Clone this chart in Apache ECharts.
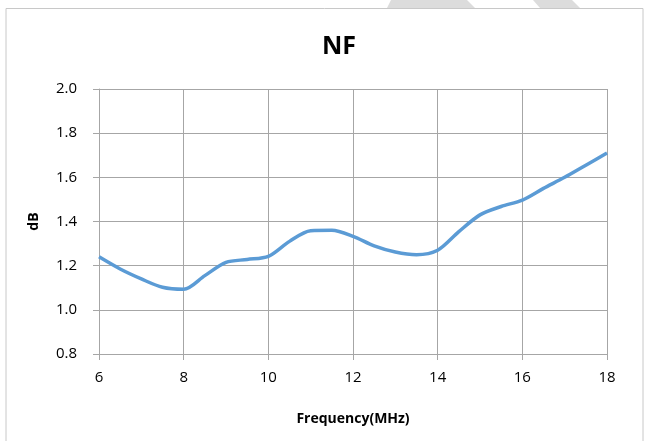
<!DOCTYPE html>
<html>
<head>
<meta charset="utf-8">
<script src="https://cdn.jsdelivr.net/npm/echarts@6/dist/echarts.min.js"></script>
<style>html,body{margin:0;padding:0;background:#fff;}#c{width:648px;height:441px;}</style>
</head>
<body>
<div id="c"></div>
<script>
var titleText = 'NF';
var xName = 'Frequency(MHz)';
var yName = 'dB';
var freq = [6, 6.5, 7, 7.5, 8, 8.5, 9, 9.5, 10, 10.5, 11, 11.5, 12, 12.5, 13, 13.5, 14, 14.5, 15, 15.5, 16, 16.5, 17, 17.5, 18];
var nf = [1.24, 1.185, 1.14, 1.102, 1.093, 1.155, 1.215, 1.228, 1.242, 1.31, 1.358, 1.36, 1.333, 1.29, 1.262, 1.25, 1.27, 1.354, 1.43, 1.468, 1.497, 1.55, 1.60, 1.655, 1.71];

var chart = echarts.init(document.getElementById('c'));
var font = '"Open Sans", "Liberation Sans", sans-serif';
chart.setOption({
  animation: false,
  backgroundColor: '#fff',
  title: {
    text: titleText, left: 334, top: 29, textAlign: 'center',
    textStyle: {fontFamily: font, fontSize: 25, fontWeight: 'bold', color: '#000'}
  },
  graphic: [
    {type: 'rect', shape: {x: 6, y: 8.5, width: 637, height: 440}, style: {fill: 'none', stroke: '#c8c8c8', lineWidth: 1}, silent: true},
    {type: 'polygon', shape: {points: [[391, 0], [467, 0], [475, 8], [387, 8]]}, style: {fill: '#dcdcdc'}, silent: true},
    {type: 'polygon', shape: {points: [[533, 0], [572, 0], [580, 8], [540, 8]]}, style: {fill: '#dcdcdc'}, silent: true}
  ],
  grid: {left: 99, right: 41, top: 89, bottom: 87},
  xAxis: {
    type: 'value', min: 6, max: 18, interval: 2,
    name: xName, nameLocation: 'middle', nameGap: 58,
    nameTextStyle: {fontFamily: font, fontSize: 14, fontWeight: 'bold', color: '#000'},
    axisLine: {show: true, lineStyle: {color: '#a6a6a6', width: 1}},
    axisTick: {show: true, length: 6, lineStyle: {color: '#a6a6a6'}},
    axisLabel: {fontFamily: font, fontSize: 15, color: '#000', margin: 16},
    splitLine: {show: true, lineStyle: {color: '#a6a6a6', width: 1}}
  },
  yAxis: {
    type: 'value', min: 0.8, max: 2.0, interval: 0.2,
    name: yName, nameLocation: 'middle', nameGap: 58, nameRotate: 90,
    nameTextStyle: {fontFamily: font, fontSize: 14, fontWeight: 'bold', color: '#000'},
    axisLine: {show: true, lineStyle: {color: '#a6a6a6', width: 1}},
    axisTick: {show: true, length: 6, lineStyle: {color: '#a6a6a6'}},
    axisLabel: {fontFamily: font, fontSize: 15, color: '#000', margin: 22,
      formatter: function (v) { return v.toFixed(1); }},
    splitLine: {show: true, lineStyle: {color: '#a6a6a6', width: 1}}
  },
  series: [{
    type: 'line', data: freq.map(function (f, i) { return [f, nf[i]]; }),
    smooth: 0.3, showSymbol: false,
    lineStyle: {color: '#5b9bd5', width: 3.5}
  }]
});
</script>
</body>
</html>
